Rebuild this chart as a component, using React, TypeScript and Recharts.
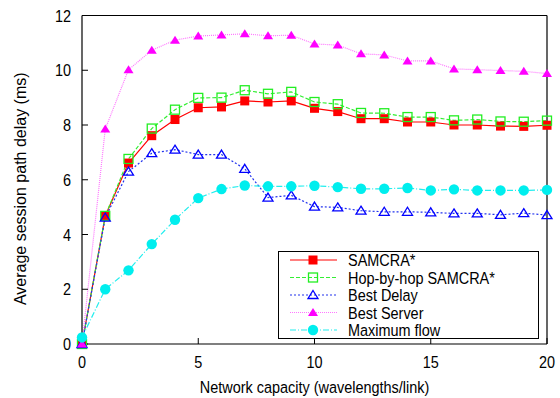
import React from 'react';
import { LineChart, Line, XAxis, YAxis, Legend, ReferenceLine } from 'recharts';

// network capacity (wavelengths/link)
const capacity = [0, 1, 2, 3, 4, 5, 6, 7, 8, 9, 10, 11, 12, 13, 14, 15, 16, 17, 18, 19, 20];

// average session path delay (ms)
const samcra = [0, 4.68, 6.61, 7.61, 8.2, 8.63, 8.66, 8.88, 8.84, 8.88, 8.61, 8.49, 8.23, 8.23, 8.11, 8.11, 8.0, 8.0, 7.96, 7.95, 7.99];
const hopByHop = [0, 4.68, 6.76, 7.87, 8.56, 8.99, 9.0, 9.27, 9.14, 9.21, 8.84, 8.76, 8.44, 8.43, 8.29, 8.29, 8.17, 8.2, 8.13, 8.12, 8.16];
const bestDelay = [0, 4.62, 6.3, 6.97, 7.1, 6.92, 6.92, 6.4, 5.35, 5.43, 5.02, 4.99, 4.87, 4.83, 4.83, 4.81, 4.77, 4.77, 4.72, 4.78, 4.71];
const bestServer = [0, 7.85, 10.02, 10.73, 11.1, 11.25, 11.29, 11.33, 11.26, 11.28, 10.96, 10.92, 10.6, 10.56, 10.34, 10.34, 10.05, 10.02, 9.99, 9.96, 9.88];
const maxFlow = [0.24, 2.0, 2.69, 3.65, 4.54, 5.33, 5.66, 5.79, 5.76, 5.76, 5.78, 5.73, 5.67, 5.67, 5.7, 5.61, 5.65, 5.61, 5.61, 5.61, 5.63];

const xTicks = [0, 5, 10, 15, 20];
const yTicks = [0, 2, 4, 6, 8, 10, 12];

// the original figure is squeezed horizontally, so horizontal text gets a narrow scale
const FONT = "'Liberation Sans', Arial, sans-serif";
const SQUEEZE = 0.85;

type Shape = 'square' | 'openSquare' | 'openTriangle' | 'triangle' | 'circle';

const series: { key: string; name: string; values: number[]; color: string; line: string; dash?: string; shape: Shape }[] = [
  { key: 'samcra', name: 'SAMCRA*', values: samcra, color: '#ff0000', line: '#ff0000', shape: 'square' },
  { key: 'hop', name: 'Hop-by-hop SAMCRA*', values: hopByHop, color: '#22ee22', line: '#33ee33', dash: '4 2', shape: 'openSquare' },
  { key: 'delay', name: 'Best Delay', values: bestDelay, color: '#0000ff', line: '#2233ee', dash: '2 2', shape: 'openTriangle' },
  { key: 'server', name: 'Best Server', values: bestServer, color: '#ff00ff', line: '#ff77ff', dash: '1 1', shape: 'triangle' },
  { key: 'flow', name: 'Maximum flow', values: maxFlow, color: '#00eeee', line: '#22eeee', dash: '6 2 1 2', shape: 'circle' },
];

const data = capacity.map((c, i) => {
  const row: Record<string, number> = { capacity: c };
  series.forEach((s) => (row[s.key] = s.values[i]));
  return row;
});

function Marker({ shape, cx, cy, color }: { shape: Shape; cx: number; cy: number; color: string }) {
  if (cx == null || cy == null) return null;
  switch (shape) {
    case 'square':
      return <rect x={cx - 4.5} y={cy - 4.5} width={9} height={9} fill={color} />;
    case 'openSquare':
      return <rect x={cx - 4.5} y={cy - 4.5} width={9} height={9} fill="none" stroke={color} strokeWidth={1.3} />;
    case 'openTriangle':
      return <path d={`M${cx},${cy - 4.5}L${cx + 5},${cy + 3.5}L${cx - 5},${cy + 3.5}Z`} fill="none" stroke={color} strokeWidth={1.3} />;
    case 'triangle':
      return <path d={`M${cx},${cy - 4.5}L${cx + 5},${cy + 3.5}L${cx - 5},${cy + 3.5}Z`} fill={color} />;
    default:
      return <circle cx={cx} cy={cy} r={5.2} fill={color} />;
  }
}

const NarrowText = ({ x, y, anchor, dy, children }: any) => (
  <text transform={`translate(${x},${y}) scale(${SQUEEZE},1)`} textAnchor={anchor} dy={dy} fontSize={17} fontFamily={FONT} fill="#000">
    {children}
  </text>
);

const XTick = ({ x, y, payload }: any) => (
  <NarrowText x={x} y={y} anchor="middle" dy="0.71em">
    {payload.value}
  </NarrowText>
);

const YTick = ({ x, y, payload }: any) => (
  <NarrowText x={x} y={y} anchor="end" dy="0.355em">
    {payload.value}
  </NarrowText>
);

const LegendBox = () => (
  <div style={{ border: '1px solid #000', background: '#fff', width: 259, height: 86, boxSizing: 'content-box' }}>
    <svg width={259} height={86} style={{ display: 'block' }}>
      {series.map((s, i) => {
        const y = 8 + i * 17.5;
        return (
          <g key={s.key}>
            <line x1={11} x2={58} y1={y} y2={y} stroke={s.line} strokeDasharray={s.dash} strokeWidth={1.2} />
            <Marker shape={s.shape} cx={34} cy={y} color={s.color} />
            <NarrowText x={69} y={y + 6} anchor="start">
              {s.name}
            </NarrowText>
          </g>
        );
      })}
    </svg>
  </div>
);

export default function App() {
  return (
    <div style={{ position: 'absolute', left: 0, top: 0, background: '#fff' }}>
      <LineChart width={560} height={398} data={data} margin={{ top: 15.5, right: 13, bottom: 0, left: 0 }}>
        <XAxis
          dataKey="capacity"
          type="number"
          domain={[0, 20]}
          ticks={xTicks}
          height={54}
          tickSize={-6}
          tickMargin={18}
          axisLine={{ stroke: '#000', strokeWidth: 1.2 }}
          tickLine={{ stroke: '#000' }}
          tick={<XTick />}
          label={{
            content: ({ viewBox }: any) => (
              <NarrowText x={viewBox.x + viewBox.width / 2} y={viewBox.y + viewBox.height - 5} anchor="middle">
                Network capacity (wavelengths/link)
              </NarrowText>
            ),
          }}
        />
        <YAxis
          type="number"
          domain={[0, 12]}
          ticks={yTicks}
          width={82}
          tickSize={-6}
          tickMargin={17}
          axisLine={{ stroke: '#000', strokeWidth: 1.2 }}
          tickLine={{ stroke: '#000' }}
          tick={<YTick />}
          label={{
            content: ({ viewBox }: any) => {
              const x = viewBox.x + 20;
              const y = viewBox.y + viewBox.height / 2 + 9;
              return (
                <text x={x} y={y} transform={`rotate(-90, ${x}, ${y})`} textAnchor="middle" dominantBaseline="central" fontSize={16} fontFamily={FONT} fill="#000">
                  Average session path delay (ms)
                </text>
              );
            },
          }}
        />
        <ReferenceLine y={12} stroke="#000" strokeWidth={1.2} />
        <ReferenceLine x={20} stroke="#000" strokeWidth={1.2} />
        {series.map((s) => (
          <Line
            key={s.key}
            dataKey={s.key}
            name={s.name}
            stroke={s.line}
            strokeWidth={1.2}
            strokeDasharray={s.dash}
            isAnimationActive={false}
            dot={(p: any) => <Marker key={`${s.key}-${p.index}`} shape={s.shape} cx={p.cx} cy={p.cy} color={s.color} />}
          />
        ))}
        <Legend
          layout="horizontal"
          verticalAlign="middle"
          align="center"
          wrapperStyle={{ left: 278, top: 251, width: 261, height: 88 }}
          content={() => <LegendBox />}
        />
      </LineChart>
    </div>
  );
}
